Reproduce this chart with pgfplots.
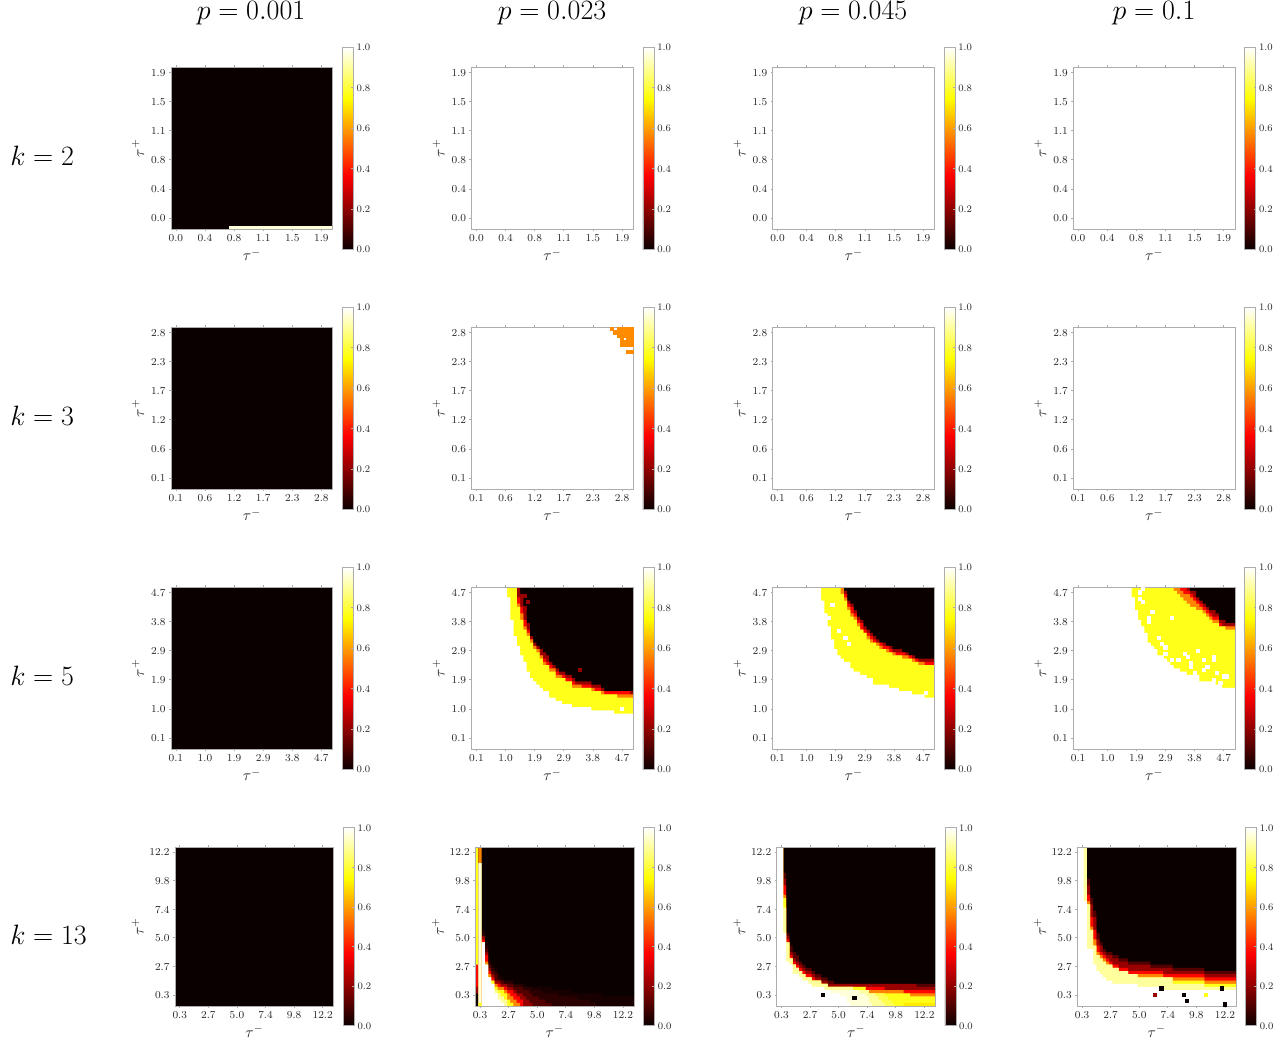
\RequirePackage{fix-cm}
\documentclass[border=0pt]{standalone}
\usepackage{pgfplots}
\pgfplotsset{compat=1.18}
\definecolor{K}{rgb}{0.0416,0,0}
\definecolor{Vv}{rgb}{0.10,0,0}
\definecolor{V}{rgb}{0.17,0,0}
\definecolor{D}{rgb}{0.32,0,0}
\definecolor{Dd}{rgb}{0.60,0,0}
\definecolor{R}{rgb}{1,0.02,0}
\definecolor{O}{rgb}{1,0.52,0}
\definecolor{Og}{rgb}{1,0.55,0}
\definecolor{Yg}{rgb}{1,0.92,0}
\definecolor{Y}{rgb}{1,1,0.1}
\definecolor{Pa}{rgb}{1,1,0.32}
\definecolor{Pb}{rgb}{1,1,0.62}
\definecolor{Pc}{rgb}{1,1,0.85}
\definecolor{fr}{gray}{0.68}
\definecolor{tx}{gray}{0.15}
\pgfplotsset{
 colormap={hotm}{rgb(0cm)=(0.0416,0,0); rgb(0.365cm)=(1,0,0); rgb(0.746cm)=(1,1,0); rgb(1cm)=(1,1,1)},
 common/.style={scale only axis, xmin=0,xmax=50,ymin=0,ymax=50, axis on top, colormap name=hotm,
  point meta min=0, point meta max=1, anchor=south west,
  xtick={1.5,10.5,19.5,28.5,37.5,46.5}, ytick={3.5,12.5,21.5,30.5,39.5,48.5},
  xtick pos=both, xticklabel pos=lower, ytick pos=left, tick align=outside,
  axis line style={fr,line width=0.5pt}, tick style={fr,line width=0.5pt}, major tick length=1.6pt,
  tick label style={font=\fontsize{8}{9}\selectfont, text=tx, text height=5.2pt, text depth=0pt},
  xticklabel style={yshift=1pt}, yticklabel style={xshift=1pt,yshift=-0.4pt},
  xlabel={$\tau^-$}, ylabel={$\tau^+$},
  label style={font=\fontsize{11.5}{13}\selectfont, text=tx},
  xlabel style={at={(axis description cs:0.5,0)}, anchor=center, yshift=-19pt},
  colorbar,
 },
 big/.style n args={2}{common, at={({#1*0.75pt},{(1042-#2)*0.75pt})}, width=121.3pt, height=121.3pt,
  ylabel style={at={(axis description cs:0,0.5)}, anchor=center, rotate=0, yshift=24.75pt},
  colorbar style={at={(parent axis.south east)}, anchor=south west,
   colorbar shift/.style={xshift=7.2pt, yshift=-15pt}, width=8.25pt, height=151.5pt, cb}},
 small/.style n args={2}{common, at={({#1*0.75pt},{(1042-#2)*0.75pt})}, width=119.1pt, height=119.1pt,
  ylabel style={at={(axis description cs:0,0.5)}, anchor=center, rotate=0, yshift=28pt},
  colorbar style={at={(parent axis.south east)}, anchor=south west,
   colorbar shift/.style={xshift=7pt, yshift=-14.8pt}, width=8.25pt, height=148.5pt, cb}},
 cb/.style={ytick={0,0.2,0.4,0.6,0.8,1}, yticklabels={0.0,0.2,0.4,0.6,0.8,1.0},
  ytick pos=right, yticklabel pos=right, axis line style={fr,line width=0.5pt},
  tick style={fr,line width=0.5pt}, major tick length=1.6pt,
  tick label style={font=\fontsize{7.5}{9}\selectfont, text=tx, text height=4.9pt, text depth=0pt}, yticklabel style={xshift=-1pt,yshift=-0.3pt}},
 ka/.style={xticklabels={0.0,0.4,0.8,1.1,1.5,1.9}, yticklabels={0.0,0.4,0.8,1.1,1.5,1.9}},
 kb/.style={xticklabels={0.1,0.6,1.2,1.7,2.3,2.8}, yticklabels={0.1,0.6,1.2,1.7,2.3,2.8}},
 kc/.style={xticklabels={0.1,1.0,1.9,2.9,3.8,4.7}, yticklabels={0.1,1.0,1.9,2.9,3.8,4.7}},
 kd/.style={xticklabels={0.3,2.7,5.0,7.4,9.8,12.2}, yticklabels={0.3,2.7,5.0,7.4,9.8,12.2}},
}
\newcommand\lev[2]{\addplot[const plot, draw=none, fill=#1, forget plot] coordinates {#2} \closedcycle;}
\newcommand\spk[2]{\addplot[only marks, mark=square*, mark size=1.2pt, color=#1, mark options={line width=0pt}, forget plot] coordinates {#2};}
\newcommand\bigger[1]{\fontsize{21}{25}\selectfont$#1$}
\begin{document}
\begin{tikzpicture}
\useasboundingbox (0,0) rectangle (965.25pt,781.5pt);
\foreach \xx/\tt in {251/0.001,552/0.023,853/0.045,1154/0.1}
  \node[anchor=base,inner sep=0pt] at ({\xx*0.75pt},{(1042-20)*0.75pt}) {\bigger{p=\tt}};
\foreach \yy/\kk in {166/2,426/3,686/5,944/13}
  \node[anchor=base west,inner sep=0pt] at ({10*0.75pt},{(1042-\yy)*0.75pt}) {\bigger{k=\kk}};

% k = 2
\begin{axis}[big={171}{229.3},ka]
\lev{K}{(0,50)(50,50)}
\lev{Pc}{(18,1)(50,1)}
\end{axis}
\begin{axis}[big={471.6}{229.3},ka]
\lev{white}{(0,50)(50,50)}
\end{axis}
\begin{axis}[big={772.7}{229.3},ka]
\lev{white}{(0,50)(50,50)}
\end{axis}
\begin{axis}[big={1073.3}{229.3},ka]
\lev{white}{(0,50)(50,50)}
\end{axis}

% k = 3
\begin{axis}[big={171}{489.3},kb]
\lev{K}{(0,50)(50,50)}
\end{axis}
\begin{axis}[big={471.6}{489.3},kb]
\lev{white}{(0,50)(50,50)}
\spk{Og}{(43.5,49.5)(45.5,49.5)(46.5,49.5)(47.5,49.5)(48.5,49.5)(49.5,49.5)
(44.5,48.5)(45.5,48.5)(46.5,48.5)(47.5,48.5)(48.5,48.5)(49.5,48.5)
(45.5,47.5)(46.5,47.5)(47.5,47.5)(48.5,47.5)(49.5,47.5)
(46.5,46.5)(48.5,46.5)(49.5,46.5)
(46.5,45.5)(47.5,45.5)(48.5,45.5)(49.5,45.5)
(46.5,44.5)(47.5,44.5)(48.5,44.5)(49.5,44.5)
(48.5,42.5)(49.5,42.5)}
\end{axis}
\begin{axis}[big={772.7}{489.3},kb]
\lev{white}{(0,50)(50,50)}
\end{axis}
\begin{axis}[big={1073.3}{489.3},kb]
\lev{white}{(0,50)(50,50)}
\end{axis}

% k = 5
\begin{axis}[big={171}{749.3},kc]
\lev{K}{(0,50)(50,50)}
\end{axis}
\begin{axis}[big={471.6}{749.3},kc]
\lev{K}{(0,50)(50,50)}
\lev{Dd}{(0,50)(14,50)(15,48)(16,43)(17,39)(18,35)(19,33)(20,32)(21,31)(22,30)(23,29)(24,27)(25,26)(26,25)(27,24)(29,23)(31,22)(32,21)(37,20)(40,19)(41,18)(50,18)}
\lev{R}{(0,50)(14,47)(15,44)(16,40)(17,37)(18,34)(19,32)(20,31)(21,29)(22,28)(23,27)(24,26)(25,25)(26,24)(27,23)(29,22)(31,21)(32,20)(37,19)(40,18)(49,17)(50,17)}
\lev{O}{(0,50)(14,45)(15,42)(16,38)(17,36)(18,34)(19,32)(20,31)(21,29)(22,27)(23,26)(24,25)(26,23)(28,22)(29,21)(31,20)(34,19)(38,18)(41,17)(50,17)}
\lev{Y}{(0,50)(14,44)(15,40)(16,37)(17,35)(18,33)(19,31)(20,30)(21,28)(22,26)(24,24)(26,22)(29,21)(31,19)(37,18)(40,17)(45,16)(50,16)}
\lev{white}{(0,50)(11,47)(12,40)(13,35)(14,32)(15,29)(16,27)(17,24)(18,22)(19,21)(20,20)(21,19)(22,18)(24,16)(26,15)(28,14)(31,13)(37,12)(44,11)(50,11)}
\spk{Dd}{(16.5,47.5)(17.5,45.5)(16.5,43.5)(33.5,24.5)}
\spk{white}{(46.5,12.5)}
\end{axis}
\begin{axis}[big={772.7}{749.3},kc]
\lev{K}{(0,50)(50,50)}
\lev{Dd}{(0,50)(22,49)(23,46)(24,45)(25,43)(26,41)(27,40)(28,38)(29,37)(30,36)(31,35)(32,34)(33,33)(35,32)(37,31)(40,30)(42,29)(44,28)(50,28)}
\lev{R}{(0,50)(22,48)(23,45)(24,44)(25,42)(26,40)(27,39)(28,37)(29,36)(30,35)(31,34)(32,33)(34,32)(36,31)(37,30)(41,29)(43,28)(45,27)(50,27)}
\lev{O}{(0,50)(22,47)(23,44)(24,42)(25,41)(26,39)(27,37)(28,36)(29,35)(30,34)(31,33)(33,32)(34,31)(36,30)(38,29)(42,28)(44,27)(47,26)(50,26)}
\lev{Y}{(0,50)(21,48)(22,46)(23,43)(24,41)(25,40)(26,38)(27,37)(28,36)(29,34)(30,33)(32,32)(33,31)(35,30)(37,29)(40,28)(43,27)(45,26)(50,26)}
\lev{white}{(0,50)(15,46)(16,42)(17,38)(18,34)(19,31)(20,29)(21,28)(22,27)(24,25)(25,24)(27,23)(29,22)(31,20)(36,19)(39,18)(43,17)(47,16)(50,16)}
\spk{white}{(18.5,44.5)(17.5,40.5)(20.5,36.5)(22.5,34.5)(23.5,32.5)(47.5,17.5)}
\end{axis}
\begin{axis}[big={1073.3}{749.3},kc]
\lev{K}{(0,50)(50,50)}
\lev{Dd}{(0,50)(36,49)(38,47)(39,46)(40,45)(41,44)(42,43)(44,42)(45,40)(47,39)(50,39)}
\lev{R}{(0,50)(35,49)(36,48)(37,47)(38,46)(39,45)(40,44)(41,43)(42,42)(43,41)(45,39)(46,38)(50,38)}
\lev{O}{(0,50)(33,49)(34,48)(36,47)(37,46)(38,45)(39,44)(40,43)(41,42)(42,41)(43,40)(45,38)(50,38)}
\lev{Y}{(0,50)(31,49)(32,48)(33,47)(34,46)(35,45)(36,44)(38,43)(40,42)(41,41)(42,40)(43,39)(45,38)(47,37)(50,37)}
\lev{white}{(0,50)(18,47)(19,43)(20,40)(21,38)(22,36)(23,33)(24,32)(25,31)(26,29)(28,28)(29,27)(30,26)(31,25)(33,24)(35,23)(39,21)(44,20)(46,19)(50,19)}
\spk{white}{(21.5,49.5)(20.5,48.5)(20.5,46.5)(21.5,45.5)(24.5,42.5)(23.5,40.5)(23.5,39.5)(30.5,40.5)(26.5,34.5)(27.5,32.5)(28.5,31.5)(28.5,29.5)(30.5,27.5)(32.5,27.5)(34.5,29.5)(35.5,28.5)(36.5,26.5)(36.5,25.5)(38.5,30.5)(40.5,27.5)(41.5,25.5)(40.5,24.5)(43.5,28.5)(43.5,27.5)(44.5,23.5)(43.5,21.5)(46.5,22.5)(47.5,22.5)(45.5,20.5)(37.5,23.5)}
\end{axis}

% k = 13
\begin{axis}[small={175}{1006},kd]
\lev{K}{(0,50)(50,50)}
\end{axis}
\begin{axis}[small={475.3}{1006},kd]
\lev{K}{(0,50)(50,50)}
\lev{Vv}{(2,24)(3,20)(4,15)(5,13)(6,12)(7,10)(8,9)(9,8)(12,7)(16,6)(24,5)(30,4)(40,3)(50,2)}
\lev{V}{(2,23)(3,19)(4,14)(5,12)(6,11)(7,9)(8,8)(12,7)(15,6)(18,5)(21,4)(26,3)(32,2)(36,1)(38,0)}
\lev{D}{(2,22)(3,18)(4,13)(5,11)(6,10)(7,8)(9,7)(12,6)(15,5)(17,4)(18,3)(20,2)(22,1)(24,0)}
\lev{Dd}{(2,22)(3,17)(4,12)(5,10)(6,8)(8,7)(10,6)(12,5)(13,4)(15,3)(16,2)(17,1)(18,0)}
\lev{R}{(2,21)(3,16)(4,11)(5,9)(6,7)(8,6)(10,5)(12,4)(13,3)(14,2)(15,0)}
\lev{O}{(2,20)(3,14)(4,10)(5,8)(6,7)(7,6)(9,5)(10,4)(11,3)(12,2)(13,1)(14,0)}
\lev{Y}{(2,20)(3,13)(4,9)(5,8)(6,6)(7,5)(9,4)(10,2)(11,1)(12,0)}
\lev{Pb}{(2,20)(3,13)(4,9)(5,7)(6,5)(7,4)(8,3)(9,2)(10,0)}
\lev{white}{(2,20)(3,13)(4,9)(5,7)(6,4)(7,2)(8,1)(9,0)}
\lev{Y}{(0,50)(1,50)}
\lev{R}{(0,13)(1,13)}
\lev{Dd}{(0,6)(1,6)}
\lev{K}{(0,4)(1,4)}
\lev{O}{(1,50)(2,50)}
\lev{Pc}{(1,45)(2,45)}
\lev{Y}{(1,1)(2,1)}
\end{axis}
\begin{axis}[small={776.7}{1006},kd]
\lev{K}{(0,50)(50,50)}
\lev{D}{(0,50)(2,42)(3,23)(4,19)(5,17)(6,16)(7,14)(8,13)(9,12)(11,11)(12,10)(14,9)(16,8)(18,7)(44,7)(50,6)}
\lev{Dd}{(0,50)(2,40)(3,22)(4,17)(5,15)(6,14)(7,13)(8,12)(9,11)(11,10)(12,9)(14,8)(16,7)(44,6)(50,6)}
\lev{R}{(0,50)(2,38)(3,21)(4,16)(5,14)(6,13)(7,12)(8,11)(9,10)(11,9)(12,8)(14,7)(16,6)(34,5)(50,5)}
\lev{O}{(0,50)(2,35)(3,20)(4,15)(5,13)(6,12)(7,11)(8,10)(9,9)(11,8)(14,7)(16,6)(28,5)(40,4)(50,4)}
\lev{Y}{(0,50)(2,34)(3,20)(4,15)(5,13)(6,12)(7,11)(8,10)(9,9)(11,8)(14,7)(16,6)(28,4)(42,3)(50,3)}
\lev{Yg}{(40,1)(50,1)}
\lev{Pa}{(0,50)(2,31)(3,20)(4,15)(5,13)(6,12)(7,11)(8,10)(9,9)(11,8)(14,7)(16,6)(24,5)(28,4)(34,3)(35,2)(36,1)(37,0)}
\lev{Pb}{(0,50)(2,31)(3,20)(4,15)(5,13)(6,12)(7,11)(8,10)(9,9)(11,8)(14,7)(16,6)(24,5)(29,4)(31,3)(32,2)(33,1)(34,0)}
\lev{Pc}{(16,5)(24,5)(26,4)(28,3)(29,1)(30,0)}
\lev{white}{(0,50)(2,23)(3,14)(4,13)(5,10)(7,9)(8,8)(10,7)(11,6)(15,5)(17,4)(20,3)(22,1)(23,0)}
\spk{K}{(14.5,3.5)(24.5,2.5)}
\end{axis}
\begin{axis}[small={1077.3}{1006},kd]
\lev{K}{(0,50)(50,50)}
\lev{D}{(0,50)(3,40)(4,34)(5,30)(6,23)(7,20)(8,18)(9,17)(11,16)(13,15)(16,14)(23,13)(30,12)(40,11)(50,11)}
\lev{Dd}{(0,50)(3,38)(4,32)(5,28)(6,21)(7,19)(8,17)(9,16)(11,15)(13,14)(16,13)(23,12)(30,11)(40,10)(50,10)}
\lev{R}{(0,50)(3,35)(4,28)(5,24)(6,19)(7,17)(8,16)(9,15)(10,14)(11,13)(13,12)(16,11)(27,10)(40,9)(50,9)}
\lev{O}{(0,50)(3,33)(4,25)(5,21)(6,17)(7,16)(8,15)(9,14)(10,13)(11,12)(13,11)(16,10)(27,9)(40,8)(50,8)}
\lev{Y}{(0,50)(3,32)(4,24)(5,19)(6,16)(7,15)(8,14)(9,13)(11,12)(13,11)(16,10)(19,9)(30,8)(40,7)(50,7)}
\lev{Pb}{(0,50)(3,32)(4,24)(5,19)(6,16)(7,15)(8,14)(9,13)(11,12)(13,11)(16,10)(19,9)(30,7)(40,6)(50,6)}
\lev{white}{(0,50)(2,33)(3,18)(5,13)(6,11)(7,10)(8,9)(9,8)(11,7)(19,6)(27,5)(50,5)}
\spk{K}{(26.5,5.5)(45.5,5.5)(33.5,3.5)(34.5,1.5)(46.5,0.5)}
\spk{Dd}{(24.5,3.5)}
\spk{Y}{(40.5,3.5)}
\end{axis}
\end{tikzpicture}
\end{document}
